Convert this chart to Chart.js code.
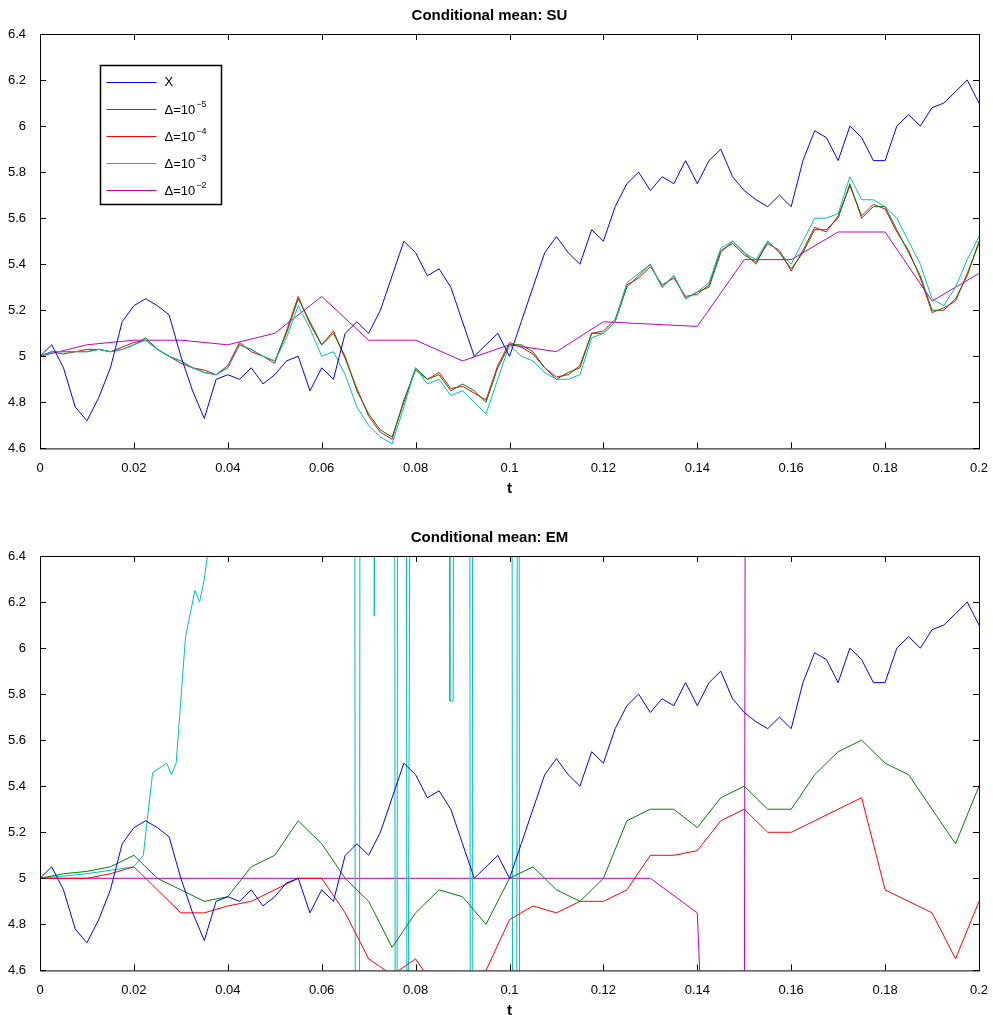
<!DOCTYPE html>
<html>
<head>
<meta charset="utf-8">
<script src="https://cdn.jsdelivr.net/npm/chart.js@4"></script>
<style>
  html, body { margin: 0; background: #fff; overflow: hidden; font-family: "Liberation Sans", Arial, sans-serif; }
  .panel { position: absolute; left: 0; width: 993px; }
</style>
</head>
<body>
<div class="panel" style="top:0;height:507px"><canvas id="su"></canvas></div>
<div class="panel" style="top:516px;height:504px"><canvas id="em"></canvas></div>
<script>
// time grids
const tFine = [];   // step 0.0025
for (let i = 0; i <= 80; i++) tFine.push(+(i * 0.0025).toFixed(4));
const tMid = [];    // step 0.005
for (let i = 0; i <= 40; i++) tMid.push(+(i * 0.005).toFixed(4));
const tCoarse = []; // step 0.01
for (let i = 0; i <= 20; i++) tCoarse.push(+(i * 0.01).toFixed(2));

const xPath = [5.0,5.05,4.95,4.78,4.72,4.82,4.95,5.15,5.22,5.25,5.22,5.18,5.0,4.85,4.73,4.9,4.92,4.9,4.95,4.88,
  4.92,4.98,5.0,4.85,4.95,4.9,5.1,5.15,5.1,5.2,5.35,5.5,5.45,5.35,5.38,5.3,5.15,5.0,5.05,5.1,
  5.0,5.15,5.3,5.45,5.52,5.45,5.4,5.55,5.5,5.65,5.75,5.8,5.72,5.78,5.75,5.85,5.75,5.85,5.9,5.78,
  5.72,5.68,5.65,5.7,5.65,5.85,5.98,5.95,5.85,6.0,5.95,5.85,5.85,6.0,6.05,6.0,6.08,6.1,6.15,6.2,6.1];

const suD5 = [5.0,5.02,5.02,5.02,5.02,5.03,5.02,5.03,5.05,5.08,5.03,5.0,4.98,4.95,4.93,4.92,4.95,5.05,5.03,5.0,
  4.98,5.1,5.25,5.15,5.05,5.1,5.0,4.85,4.75,4.68,4.65,4.8,4.95,4.9,4.92,4.85,4.88,4.85,4.8,4.95,
  5.05,5.05,5.02,4.95,4.9,4.93,4.95,5.1,5.1,5.15,5.3,5.35,5.4,5.3,5.35,5.25,5.28,5.3,5.45,5.5,
  5.45,5.4,5.5,5.45,5.38,5.45,5.55,5.55,5.6,5.75,5.6,5.65,5.65,5.55,5.45,5.35,5.2,5.2,5.25,5.35,5.5];
const suD4 = [5.0,5.02,5.01,5.02,5.03,5.03,5.02,5.04,5.06,5.07,5.03,5.0,4.97,4.95,4.94,4.92,4.96,5.06,5.02,5.0,
  4.97,5.11,5.26,5.14,5.05,5.11,4.99,4.86,4.74,4.67,4.64,4.81,4.94,4.9,4.93,4.86,4.87,4.84,4.81,4.96,
  5.06,5.04,5.01,4.95,4.91,4.92,4.96,5.1,5.11,5.16,5.31,5.34,5.39,5.31,5.34,5.26,5.27,5.31,5.46,5.49,
  5.44,5.41,5.49,5.46,5.37,5.46,5.56,5.54,5.61,5.74,5.61,5.66,5.64,5.54,5.46,5.34,5.19,5.21,5.24,5.36,5.49];
const suD3 = [5.0,5.02,5.02,5.02,5.02,5.03,5.02,5.03,5.05,5.07,5.03,5.0,4.98,4.95,4.93,4.92,4.95,5.05,5.03,5.0,
  4.98,5.08,5.22,5.12,5.0,5.02,4.92,4.78,4.7,4.65,4.62,4.78,4.95,4.88,4.9,4.83,4.85,4.8,4.75,4.9,
  5.05,5.0,4.98,4.93,4.9,4.9,4.92,5.08,5.1,5.15,5.32,5.36,5.4,5.3,5.35,5.25,5.28,5.32,5.47,5.5,
  5.45,5.42,5.5,5.45,5.4,5.5,5.6,5.6,5.62,5.78,5.68,5.68,5.65,5.6,5.5,5.4,5.25,5.22,5.3,5.42,5.52];
const suD2 = [5.0,5.05,5.07,5.07,5.05,5.1,5.26,5.07,5.07,4.98,5.05,5.02,5.15,5.14,5.13,5.42,5.42,5.54,5.54,5.24,5.36];

const emD5 = [5.0,5.02,5.03,5.05,5.1,5.0,4.95,4.9,4.92,5.05,5.1,5.25,5.15,5.0,4.9,4.7,4.85,4.95,4.92,4.8,
  5.0,5.05,4.95,4.9,5.0,5.25,5.3,5.3,5.22,5.35,5.4,5.3,5.3,5.45,5.55,5.6,5.5,5.45,5.3,5.15,5.4];
const emD4 = [5.0,5.0,5.0,5.02,5.05,4.95,4.85,4.85,4.88,4.9,4.95,5.0,5.0,4.85,4.65,4.58,4.65,4.5,4.55,4.6,
  4.82,4.88,4.85,4.9,4.9,4.95,5.1,5.1,5.12,5.25,5.3,5.2,5.2,5.25,5.3,5.35,4.95,4.9,4.85,4.65,4.9];
const emD3t = [0,0.01,0.02,0.022,0.024,0.027,0.028,0.029,0.031,0.033,0.034,0.035,0.036,0.037,
  0.067,0.0672,0.068,0.0682,0.071,0.0712,0.0715,0.0755,0.0757,0.076,0.0762,0.078,0.0782,0.079,
  0.0872,0.0873,0.088,0.0882,0.0915,0.0917,0.092,0.0922,0.1005,0.1007,0.1015,0.1017,0.102,0.1022,0.2];
const emD3v = [5.0,5.02,5.05,5.1,5.46,5.5,5.45,5.5,6.05,6.25,6.2,6.3,6.45,8,
  8,3,3,8,8,6.14,8,8,3,3,8,8,3,8,
  8,5.77,5.77,8,8,3,3,8,8,3,3,8,8,3,3];
const emD2t = [0,0.01,0.02,0.03,0.04,0.05,0.06,0.07,0.08,0.09,0.1,0.11,0.12,0.13,0.14,0.1405,0.15,0.1503];
const emD2v = [5.0,5.0,5.0,5.0,5.0,5.0,5.0,5.0,5.0,5.0,5.0,5.0,5.0,5.0,4.85,4.6,4.0,8];

const xTicks = [0,0.02,0.04,0.06,0.08,0.1,0.12,0.14,0.16,0.18,0.2];
const yTicks = [4.6,4.8,5,5.2,5.4,5.6,5.8,6,6.2,6.4];
const legendNames = ['X', '-5', '-4', '-3', '-2'];
const legendColors = ['#0000ff', '#007f00', '#ff0000', '#00bfbf', '#bf00bf'];

const pts = (ts, vs) => ts.map((t, i) => ({ x: t, y: vs[i] }));
const line = (color, data) => ({ data, borderColor: color, borderWidth: 1, pointRadius: 0, fill: false, tension: 0 });

const frame = {
  id: 'frame',
  afterDraw(chart) {
    const { ctx, chartArea: a, scales } = chart;
    ctx.save();
    ctx.strokeStyle = '#000'; ctx.lineWidth = 1;
    ctx.strokeRect(a.left + 0.5, a.top + 0.5, a.right - a.left, a.bottom - a.top);
    ctx.beginPath();
    xTicks.forEach(v => { const x = Math.round(scales.x.getPixelForValue(v)) + 0.5;
      ctx.moveTo(x, a.bottom); ctx.lineTo(x, a.bottom - 6); ctx.moveTo(x, a.top); ctx.lineTo(x, a.top + 6); });
    yTicks.forEach(v => { const y = Math.round(scales.y.getPixelForValue(v)) + 0.5;
      ctx.moveTo(a.left, y); ctx.lineTo(a.left + 6, y); ctx.moveTo(a.right, y); ctx.lineTo(a.right - 6, y); });
    ctx.stroke();

    if (chart.canvas.id === 'su') {
      const bx = 100.5, by = 65.5;
      ctx.fillStyle = '#fff';
      ctx.fillRect(bx, by, 121, 139);
      ctx.strokeStyle = '#000';
      ctx.lineWidth = 1.5;
      ctx.strokeRect(bx, by, 121, 139);
      ctx.lineWidth = 1;
      legendNames.forEach((n, i) => {
        const y = Math.round(by + 16 + i * 27) + 0.5;
        ctx.strokeStyle = legendColors[i];
        ctx.beginPath(); ctx.moveTo(bx + 6, y); ctx.lineTo(bx + 56, y); ctx.stroke();
        ctx.fillStyle = '#000';
        ctx.textBaseline = 'middle';
        ctx.font = '13px "Liberation Sans"';
        if (i === 0) { ctx.fillText('X', bx + 64, y); return; }
        ctx.fillText('Δ=10', bx + 64, y + 1);
        const w = ctx.measureText('Δ=10').width;
        ctx.font = '9px "Liberation Sans"';
        ctx.fillText(n.replace('-', '−'), bx + 64 + w + 1, y - 5);
      });
    }
    ctx.restore();
  }
};

function makeChart(id, title, datasets, padTop, padBottom) {
  return new Chart(document.getElementById(id), {
    type: 'line',
    data: { datasets },
    plugins: [frame],
    options: {
      responsive: true, maintainAspectRatio: false, animation: false,
      layout: { padding: { left: 0, right: 14, top: padTop, bottom: padBottom } },
      plugins: {
        legend: { display: false },
        tooltip: { enabled: false },
        title: { display: true, text: title, color: '#000', font: { size: 15, weight: 'bold', family: 'Liberation Sans' }, padding: { top: 5, bottom: 9 } }
      },
      scales: {
        x: {
          type: 'linear', min: 0, max: 0.2,
          afterBuildTicks: s => { s.ticks = xTicks.map(v => ({ value: v })); },
          grid: { display: false }, border: { display: false },
          ticks: { color: '#000', font: { size: 13, family: 'Liberation Sans' }, maxRotation: 0, padding: 4, callback: v => String(+v.toFixed(2)) },
          title: { display: true, text: 't', color: '#000', font: { size: 15, weight: 'bold', family: 'Liberation Sans' }, padding: 0 }
        },
        y: {
          min: 4.6, max: 6.4,
          afterBuildTicks: s => { s.ticks = yTicks.map(v => ({ value: v })); },
          grid: { display: false }, border: { display: false },
          afterFit: s => { s.width = 40; },
          ticks: { color: '#000', font: { size: 13, family: 'Liberation Sans' }, padding: 6, callback: v => String(+v.toFixed(1)) }
        }
      }
    }
  });
}

makeChart('su', 'Conditional mean: SU', [
  line('#0000ff', pts(tFine, xPath)),
  line('#00bfbf', pts(tFine, suD3)),
  line('#bf00bf', pts(tCoarse, suD2)),
  line('#007f00', pts(tFine, suD5)),
  line('#ff0000', pts(tFine, suD4))
], 2, 9);
makeChart('em', 'Conditional mean: EM', [
  line('#0000ff', pts(tFine, xPath)),
  line('#007f00', pts(tMid, emD5)),
  line('#ff0000', pts(tMid, emD4)),
  line('#00bfbf', pts(emD3t, emD3v)),
  line('#bf00bf', pts(emD2t, emD2v))
], 8, 0);
</script>
</body>
</html>
